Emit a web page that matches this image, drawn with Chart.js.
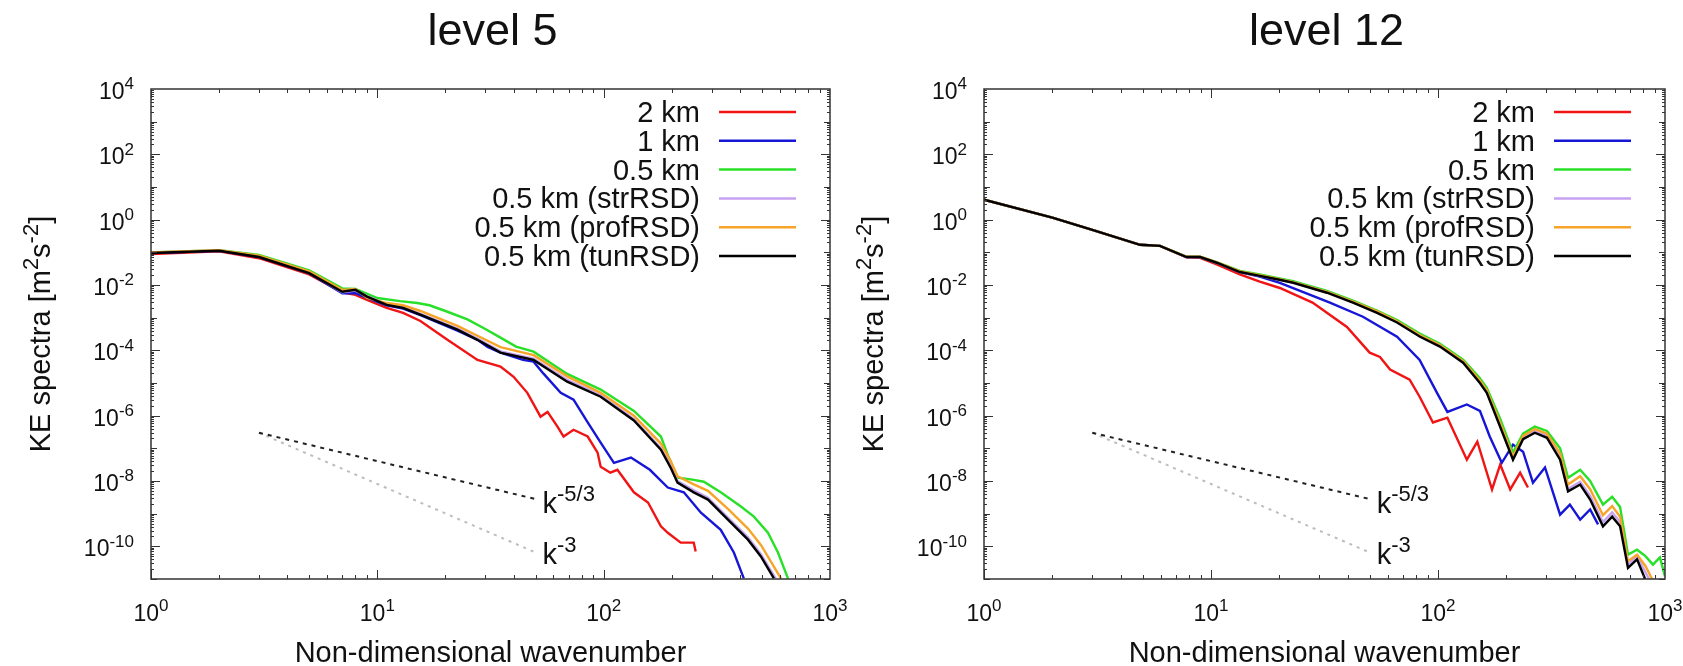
<!DOCTYPE html>
<html lang="en">
<head>
    <meta charset="UTF-8">
    <title>KE spectra - level 5 / level 12</title>
    <script src="https://cdn.jsdelivr.net/npm/chart.js"></script>
    <style>
        body {
            margin: 0;
            background: #fff;
            width: 1683px;
            height: 666px;
            overflow: hidden;
            position: relative;
        }
        .panel { position: absolute; top: 0; height: 666px; }
        #p5 { left: 0; width: 880px; }
        #p12 { left: 840px; width: 843px; }
    </style>
</head>
<body>

    <div class="panel" id="p5"><canvas id="c5"></canvas></div>
    <div class="panel" id="p12"><canvas id="c12"></canvas></div>

    <script>
        // ---- labels / styles ----
        const panelTitles = ['level 5', 'level 12'];
        const seriesNames = ['2 km', '1 km', '0.5 km', '0.5 km (strRSD)', '0.5 km (profRSD)', '0.5 km (tunRSD)'];
        const seriesColors = ['#f01414', '#1616d6', '#28e028', '#c6a2f0', '#f7a52a', '#000000'];
        const xTickExps = [0, 1, 2, 3];
        const yTickExps = [-10, -8, -6, -4, -2, 0, 2, 4];

        // ---- level 5 (wavenumber k, spectrum E) ----
        const k5Red = [1, 2, 3, 5, 7, 8, 9, 11, 13, 15.5, 20.4, 27.7, 35, 40, 46, 52.6, 56.5, 62.5, 66.5, 73.6, 85, 94, 97, 107, 115, 136, 157, 179, 192, 219, 250, 255];
        const e5Red = [8.9e-2, 1.07e-1, 6.6e-2, 2.1e-2, 6.0e-3, 5.0e-3, 3.5e-3, 2.0e-3, 1.4e-3, 7.9e-4, 2.1e-4, 5.1e-5, 3.2e-5, 1.55e-5, 5.0e-6, 9.3e-7, 1.3e-6, 4.6e-7, 2.3e-7, 3.7e-7, 2.3e-7, 7.4e-8, 2.75e-8, 1.8e-8, 2.2e-8, 4.5e-9, 2.2e-9, 4.1e-10, 2.6e-10, 1.3e-10, 1.3e-10, 6.9e-11];

        const k5Blue = [1, 2, 3, 5, 7, 8, 9, 11, 13, 15.5, 22.6, 27.7, 30.7, 35, 44, 49, 54, 64.6, 73.6, 85, 97, 111, 132, 160, 192, 226, 269, 329, 376, 416];
        const e5Blue = [9.5e-2, 1.12e-1, 7.2e-2, 2.3e-2, 5.6e-3, 5.6e-3, 4.0e-3, 2.4e-3, 1.9e-3, 1.2e-3, 4.0e-4, 2.1e-4, 1.26e-4, 8.5e-5, 5.1e-5, 4.5e-5, 2.0e-5, 5.0e-6, 3.1e-6, 6.2e-7, 1.5e-7, 3.6e-8, 5.2e-8, 2.2e-8, 6.3e-9, 4.5e-9, 1.07e-9, 3.2e-10, 6.5e-11, 1.05e-11];

        const k5Green = [1, 2, 3, 5, 7, 8, 10, 12.6, 15, 17, 20, 25, 30, 35, 41, 49, 69, 97, 136, 179, 192, 212, 247, 277, 329, 404, 461, 532, 589, 652];
        const e5Green = [1.0e-1, 1.17e-1, 8.3e-2, 2.8e-2, 7.9e-3, 7.6e-3, 4.0e-3, 3.2e-3, 2.8e-3, 2.4e-3, 1.6e-3, 8.9e-4, 4.5e-4, 2.45e-4, 1.3e-4, 9.1e-5, 1.9e-5, 6.3e-6, 1.4e-6, 2.3e-7, 6.3e-8, 1.26e-8, 1.1e-8, 9.5e-9, 4.5e-9, 1.66e-9, 8.1e-10, 2.6e-10, 6.5e-11, 1.05e-11];

        const k5Purple = [1, 2, 3, 5, 7, 8, 9, 11, 13, 15.5, 22.6, 27.7, 35, 49, 69, 97, 136, 179, 198, 212, 250, 289, 354, 434, 495, 575];
        const e5Purple = [1.0e-1, 1.15e-1, 7.5e-2, 2.4e-2, 6.0e-3, 6.8e-3, 4.6e-3, 2.6e-3, 2.1e-3, 1.3e-3, 4.6e-4, 2.3e-4, 9.3e-5, 5.6e-5, 1.25e-5, 4.2e-6, 7.8e-7, 1.0e-7, 2.9e-8, 1.0e-8, 5.2e-9, 3.1e-9, 7.6e-10, 1.9e-10, 5.8e-11, 1.05e-11];

        const k5Orange = [1, 2, 3, 5, 7, 8, 9, 11, 13, 15.5, 22.6, 27.7, 35, 49, 69, 97, 136, 179, 198, 212, 250, 289, 354, 434, 495, 607];
        const e5Orange = [1.0e-1, 1.17e-1, 7.9e-2, 2.6e-2, 7.1e-3, 7.6e-3, 4.0e-3, 2.8e-3, 2.4e-3, 1.6e-3, 5.6e-4, 2.8e-4, 1.26e-4, 7.1e-5, 1.6e-5, 5.0e-6, 1.0e-6, 1.4e-7, 4.0e-8, 1.4e-8, 7.9e-9, 5.0e-9, 1.4e-9, 3.5e-10, 1.1e-10, 1.05e-11];

        const k5Black = [1, 2, 3, 5, 7, 8, 9, 11, 13, 15.5, 22.6, 27.7, 35, 49, 69, 97, 136, 179, 198, 212, 250, 289, 354, 434, 495, 565];
        const e5Black = [9.5e-2, 1.12e-1, 7.2e-2, 2.3e-2, 6.2e-3, 7.1e-3, 4.4e-3, 2.45e-3, 2.0e-3, 1.23e-3, 4.3e-4, 2.1e-4, 8.5e-5, 5.1e-5, 1.1e-5, 3.8e-6, 7.1e-7, 9.1e-8, 2.5e-8, 8.9e-9, 4.5e-9, 2.7e-9, 6.6e-10, 1.6e-10, 4.9e-11, 1.05e-11];

        // ---- level 12 ----
        const k12Red = [1, 2, 3, 4.87, 5.96, 7.8, 8.95, 10.6, 13.4, 16.4, 20.1, 28, 39.7, 50, 55.5, 61.5, 75, 83, 95, 110, 134, 149, 173, 188, 208, 230, 249];
        const e12Red = [4.1, 1.15, 0.49, 0.17, 0.158, 7.1e-2, 6.8e-2, 4.3e-2, 2.1e-2, 1.26e-2, 8.1e-3, 2.9e-3, 5.2e-4, 8.5e-5, 6.3e-5, 2.6e-5, 1.26e-5, 3.8e-6, 6.2e-7, 8.7e-7, 4.5e-8, 1.6e-7, 5.5e-9, 3.2e-8, 5.5e-9, 1.8e-8, 6.3e-9];

        const k12Blue = [1, 2, 3, 4.87, 5.96, 7.8, 8.95, 10.6, 13.4, 16.4, 20.1, 33.4, 46.7, 66, 83, 99, 110, 134, 153, 169, 191, 214, 237, 262, 296, 345, 381, 423, 468, 507];
        const e12Blue = [4.1, 1.15, 0.49, 0.17, 0.158, 7.2e-2, 7.2e-2, 4.8e-2, 2.5e-2, 1.8e-2, 1.17e-2, 2.9e-3, 1.07e-3, 2.6e-4, 5.1e-5, 5.0e-6, 1.3e-6, 2.2e-6, 1.4e-6, 2.3e-7, 3.6e-8, 1.3e-7, 7.9e-8, 8.9e-9, 2.6e-8, 9.3e-10, 1.9e-9, 6.6e-10, 1.35e-9, 4.7e-10];

        const k12Green = [1, 2, 3, 4.87, 5.96, 7.8, 8.95, 10.6, 13.4, 16.4, 20, 23, 32.4, 42.2, 53.9, 66, 83.4, 102, 129, 153, 164, 188, 214, 237, 267, 302, 345, 374, 423, 468, 533, 585, 634, 687, 753, 820, 885, 950, 1000];
        const e12Green = [4.1, 1.15, 0.49, 0.17, 0.158, 7.4e-2, 7.4e-2, 5.0e-2, 2.7e-2, 2.1e-2, 1.6e-2, 1.3e-2, 6.6e-3, 3.3e-3, 1.66e-3, 8.5e-4, 3.2e-4, 1.6e-4, 5.2e-5, 1.4e-5, 7.1e-6, 7.9e-7, 7.4e-8, 2.8e-7, 4.6e-7, 3.4e-7, 1.0e-7, 1.26e-8, 2.2e-8, 1.0e-8, 1.9e-9, 3.3e-9, 1.6e-9, 5.6e-11, 7.9e-11, 5.0e-11, 2.75e-11, 4.6e-11, 1.2e-11];

        const k12Purple = [1, 2, 3, 4.87, 5.96, 7.8, 8.95, 10.6, 13.4, 16.4, 20, 23, 32.4, 42.2, 53.9, 66, 83.4, 102, 129, 153, 164, 188, 214, 237, 267, 302, 345, 374, 423, 468, 533, 585, 634, 687, 753, 850];
        const e12Purple = [4.1, 1.15, 0.49, 0.17, 0.158, 7.2e-2, 7.2e-2, 4.8e-2, 2.5e-2, 1.9e-2, 1.45e-2, 1.2e-2, 6.0e-3, 3.0e-3, 1.5e-3, 7.5e-4, 2.8e-4, 1.4e-4, 4.5e-5, 1.1e-5, 5.5e-6, 5.2e-7, 5.0e-8, 2.1e-7, 3.4e-7, 2.4e-7, 5.5e-8, 5.8e-9, 9.5e-9, 3.5e-9, 5.5e-10, 1.1e-9, 5.5e-10, 2.8e-11, 5.0e-11, 1.0e-11];

        const k12Orange = [1, 2, 3, 4.87, 5.96, 7.8, 8.95, 10.6, 13.4, 16.4, 20, 23, 32.4, 42.2, 53.9, 66, 83.4, 102, 129, 153, 164, 188, 214, 237, 267, 302, 345, 374, 423, 468, 533, 585, 634, 687, 753, 820, 877];
        const e12Orange = [4.1, 1.15, 0.49, 0.17, 0.158, 7.3e-2, 7.3e-2, 4.9e-2, 2.6e-2, 2.0e-2, 1.5e-2, 1.22e-2, 6.2e-3, 3.1e-3, 1.55e-3, 7.8e-4, 2.9e-4, 1.45e-4, 4.7e-5, 1.2e-5, 6.0e-6, 6.0e-7, 5.5e-8, 2.4e-7, 3.9e-7, 2.8e-7, 7.0e-8, 7.8e-9, 1.4e-8, 5.6e-9, 9.0e-10, 1.7e-9, 8.0e-10, 3.5e-11, 5.6e-11, 2.5e-11, 1.0e-11];

        const k12Black = [1, 2, 3, 4.87, 5.96, 7.8, 8.95, 10.6, 13.4, 16.4, 20, 23, 32.4, 42.2, 53.9, 66, 83.4, 102, 129, 153, 164, 188, 214, 237, 267, 302, 345, 374, 423, 468, 533, 585, 634, 687, 753, 817];
        const e12Black = [4.1, 1.15, 0.49, 0.17, 0.158, 7.2e-2, 7.2e-2, 4.8e-2, 2.5e-2, 1.9e-2, 1.45e-2, 1.17e-2, 5.8e-3, 2.9e-3, 1.4e-3, 7.1e-4, 2.6e-4, 1.3e-4, 4.2e-5, 1.0e-5, 5.0e-6, 4.5e-7, 4.5e-8, 1.9e-7, 3.0e-7, 2.1e-7, 4.5e-8, 4.8e-9, 7.8e-9, 2.7e-9, 4.1e-10, 8.1e-10, 4.1e-10, 2.2e-11, 4.0e-11, 1.0e-11];

        // ---- reference slopes (end points) ----
        const kRef = [3, 50];
        const eRef53 = [3e-7, 2.8e-9];   // k^-5/3
        const eRef3 = [3e-7, 6.5e-11];   // k^-3

        const FONT = '"Liberation Sans", Arial, Helvetica, sans-serif';

        function pts(ks, es) {
            return ks.map((k, i) => ({ x: k, y: es[i] }));
        }

        // text with superscripts: parts = [[text, isSup], ...]
        function richText(ctx, parts, x, y, align, size) {
            const supSize = Math.round(size * 0.76);
            let total = 0;
            const widths = parts.map(p => {
                ctx.font = (p[1] ? supSize : size) + 'px ' + FONT;
                const w = ctx.measureText(p[0]).width;
                total += w;
                return w;
            });
            let cx = x;
            if (align === 'center') cx = x - total / 2;
            if (align === 'right') cx = x - total;
            ctx.textAlign = 'left';
            ctx.textBaseline = 'alphabetic';
            parts.forEach((p, i) => {
                ctx.font = (p[1] ? supSize : size) + 'px ' + FONT;
                ctx.fillText(p[0], cx, p[1] ? y - size * 0.42 : y);
                cx += widths[i];
            });
        }

        function decorPlugin(title) {
            return {
                id: 'decor',
                afterDatasetsDraw(chart) {
                    const ctx = chart.ctx;
                    const a = chart.chartArea;
                    const xs = chart.scales.x;
                    const ys = chart.scales.y;
                    ctx.save();

                    // frame
                    ctx.strokeStyle = '#333';
                    ctx.lineWidth = 1.5;
                    ctx.strokeRect(a.left, a.top, a.right - a.left, a.bottom - a.top);

                    // ticks on all four sides, pointing inward
                    ctx.lineWidth = 1;
                    ctx.beginPath();
                    for (let e = 0; e < 3; e++) {
                        for (let m = 1; m < 10; m++) {
                            const px = Math.round(xs.getPixelForValue(m * Math.pow(10, e))) + 0.5;
                            const len = m === 1 ? 9 : 4;
                            ctx.moveTo(px, a.bottom); ctx.lineTo(px, a.bottom - len);
                            ctx.moveTo(px, a.top); ctx.lineTo(px, a.top + len);
                        }
                    }
                    for (let e = -11; e < 4; e++) {
                        for (let m = 1; m < 10; m++) {
                            const py = Math.round(ys.getPixelForValue(m * Math.pow(10, e))) + 0.5;
                            const len = m === 1 ? (e % 2 === 0 ? 9 : 6) : 3;
                            ctx.moveTo(a.left, py); ctx.lineTo(a.left + len, py);
                            ctx.moveTo(a.right, py); ctx.lineTo(a.right - len, py);
                        }
                    }
                    ctx.stroke();

                    ctx.fillStyle = '#111';
                    // y tick labels
                    yTickExps.forEach(e => {
                        const py = ys.getPixelForValue(Math.pow(10, e));
                        richText(ctx, [['10', false], [String(e), true]], a.left - 17, py + 10, 'right', 23);
                    });
                    // x tick labels
                    xTickExps.forEach(e => {
                        const px = xs.getPixelForValue(Math.pow(10, e));
                        richText(ctx, [['10', false], [String(e), true]], px, 621, 'center', 23);
                    });

                    // title
                    ctx.font = '45px ' + FONT;
                    ctx.textAlign = 'center';
                    ctx.textBaseline = 'alphabetic';
                    ctx.fillText(title, (a.left + a.right) / 2 + 2, 45);

                    // x axis title
                    ctx.font = '29px ' + FONT;
                    ctx.fillText('Non-dimensional wavenumber', (a.left + a.right) / 2, 662);

                    // y axis title (rotated)
                    ctx.save();
                    ctx.translate(a.left - 101, (a.top + a.bottom) / 2);
                    ctx.rotate(-Math.PI / 2);
                    richText(ctx, [['KE spectra [m', false], ['2', true], ['s', false], ['-2', true], [']', false]], 0, 0, 'center', 29);
                    ctx.restore();

                    // slope labels
                    const lx = xs.getPixelForValue(kRef[1]) + 7;
                    richText(ctx, [['k', false], ['-5/3', true]], lx, ys.getPixelForValue(eRef53[1]) + 14, 'left', 29);
                    richText(ctx, [['k', false], ['-3', true]], lx, ys.getPixelForValue(eRef3[1]) + 12, 'left', 29);

                    // legend
                    seriesNames.forEach((name, i) => {
                        const y = a.top + 23 + i * 28.8;
                        ctx.strokeStyle = seriesColors[i];
                        ctx.lineWidth = 2.5;
                        ctx.beginPath();
                        ctx.moveTo(a.right - 111, y);
                        ctx.lineTo(a.right - 34, y);
                        ctx.stroke();
                        ctx.fillStyle = '#111';
                        ctx.font = '29px ' + FONT;
                        ctx.textAlign = 'right';
                        ctx.textBaseline = 'alphabetic';
                        ctx.fillText(name, a.right - 130, y + 10);
                    });

                    ctx.restore();
                }
            };
        }

        function makeChart(id, title, series, pad) {
            const datasets = series.map((s, i) => ({
                label: seriesNames[i],
                data: s,
                borderColor: seriesColors[i],
                borderWidth: 2.4,
                order: 6 - i
            }));
            datasets.push({
                label: 'k-5/3', data: pts(kRef, eRef53),
                borderColor: '#222', borderWidth: 2, borderDash: [4, 5], order: 8
            });
            datasets.push({
                label: 'k-3', data: pts(kRef, eRef3),
                borderColor: '#bdbdbd', borderWidth: 2, borderDash: [3, 5], order: 9
            });

            return new Chart(document.getElementById(id), {
                type: 'line',
                data: { datasets: datasets },
                options: {
                    responsive: true,
                    maintainAspectRatio: false,
                    animation: false,
                    layout: { padding: pad },
                    elements: { point: { radius: 0 }, line: { tension: 0 } },
                    plugins: {
                        legend: { display: false },
                        tooltip: { enabled: false }
                    },
                    scales: {
                        x: { type: 'logarithmic', min: 1, max: 1000, display: false },
                        y: { type: 'logarithmic', min: 1e-11, max: 1e4, display: false }
                    }
                },
                plugins: [decorPlugin(title)]
            });
        }

        makeChart('c5', panelTitles[0], [
            pts(k5Red, e5Red), pts(k5Blue, e5Blue), pts(k5Green, e5Green),
            pts(k5Purple, e5Purple), pts(k5Orange, e5Orange), pts(k5Black, e5Black)
        ], { left: 151, right: 50, top: 89, bottom: 87 });

        makeChart('c12', panelTitles[1], [
            pts(k12Red, e12Red), pts(k12Blue, e12Blue), pts(k12Green, e12Green),
            pts(k12Purple, e12Purple), pts(k12Orange, e12Orange), pts(k12Black, e12Black)
        ], { left: 144, right: 18, top: 89, bottom: 87 });
    </script>

</body>
</html>
